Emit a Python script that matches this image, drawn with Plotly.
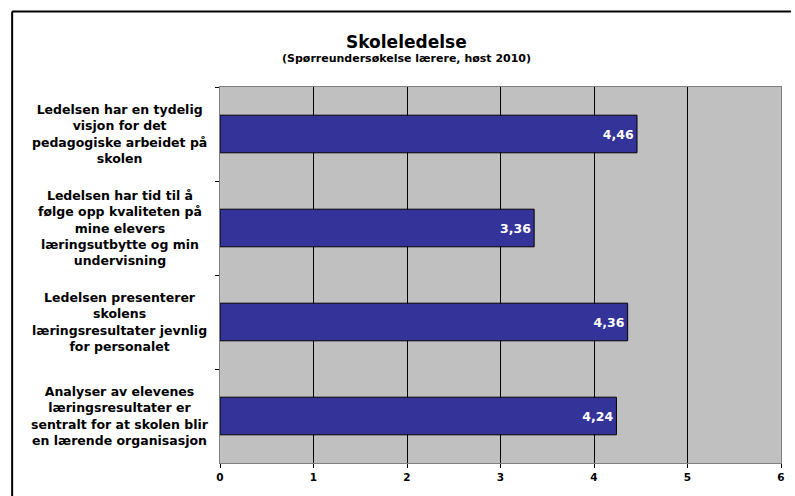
import plotly.graph_objects as go

categories = [
    "Ledelsen har en tydelig<br>visjon for det<br>pedagogiske arbeidet på<br>skolen",
    "Ledelsen har tid til å<br>følge opp kvaliteten på<br>mine elevers<br>læringsutbytte og min<br>undervisning",
    "Ledelsen presenterer<br>skolens<br>læringsresultater jevnlig<br>for personalet",
    "Analyser av elevenes<br>læringsresultater er<br>sentralt for at skolen blir<br>en lærende organisasjon",
]
values = [4.46, 3.36, 4.36, 4.24]
x_ticks = [0, 1, 2, 3, 4, 5, 6]
title = "Skoleledelse"
subtitle = "(Spørreundersøkelse lærere, høst 2010)"

FONT = "DejaVu Sans"

fig = go.Figure()
fig.add_trace(go.Bar(
    y=categories,
    x=values,
    orientation="h",
    width=0.4,
    marker=dict(color="#333399", line=dict(color="#000000", width=1)),
    texttemplate="<b>%{x:.2f}</b>",
    textposition="inside",
    insidetextanchor="end",
    textfont=dict(family=FONT, size=12.5, color="white"),
    hoverinfo="skip",
))

annotations = []
for c in categories:
    annotations.append(dict(
        text="<b>" + c + "</b>", xref="paper", yref="y", x=-0.179, y=c,
        showarrow=False, align="center", xanchor="center", yanchor="middle",
        font=dict(family=FONT, size=12.5, color="black"),
    ))
annotations.append(dict(
    text="<b>" + title + "</b>", xref="paper", yref="paper", x=0.332, y=1.1197,
    showarrow=False, xanchor="center", yanchor="middle",
    font=dict(family=FONT, size=17, color="black"),
))
annotations.append(dict(
    text="<b>" + subtitle + "</b>", xref="paper", yref="paper", x=0.332, y=1.077,
    showarrow=False, xanchor="center", yanchor="middle",
    font=dict(family=FONT, size=11, color="black"),
))

border = dict(color="black", width=2)
fig.update_layout(
    width=795, height=496,
    margin=dict(l=220, r=10, t=87, b=33),
    paper_bgcolor="white",
    plot_bgcolor="#C0C0C0",
    separators=",.",
    showlegend=False,
    annotations=annotations,
    shapes=[
        dict(type="line", xref="paper", yref="paper", x0=-0.3705, x1=1.0177,
             y0=1.2008, y1=1.2008, line=border, layer="below"),
        dict(type="line", xref="paper", yref="paper", x0=-0.3705, x1=-0.3705,
             y0=-0.0878, y1=1.2008, line=border, layer="below"),
    ],
    xaxis=dict(
        range=[0, 6], tickvals=x_ticks, ticktext=["<b>%d</b>" % t for t in x_ticks],
        showgrid=True, gridcolor="#000000", gridwidth=1,
        zeroline=False, showline=True, linecolor="#808080", linewidth=1, mirror=True,
        ticks="outside", ticklen=4, tickcolor="#000000",
        tickfont=dict(family=FONT, size=10.5, color="black"),
        fixedrange=True,
    ),
    yaxis=dict(
        type="category", autorange="reversed", tickson="boundaries",
        showticklabels=False, ticks="outside", ticklen=4, tickcolor="#000000",
        showgrid=False, showline=True, linecolor="#808080", linewidth=1, mirror=True,
        fixedrange=True,
    ),
)

fig.write_html("out.html")
